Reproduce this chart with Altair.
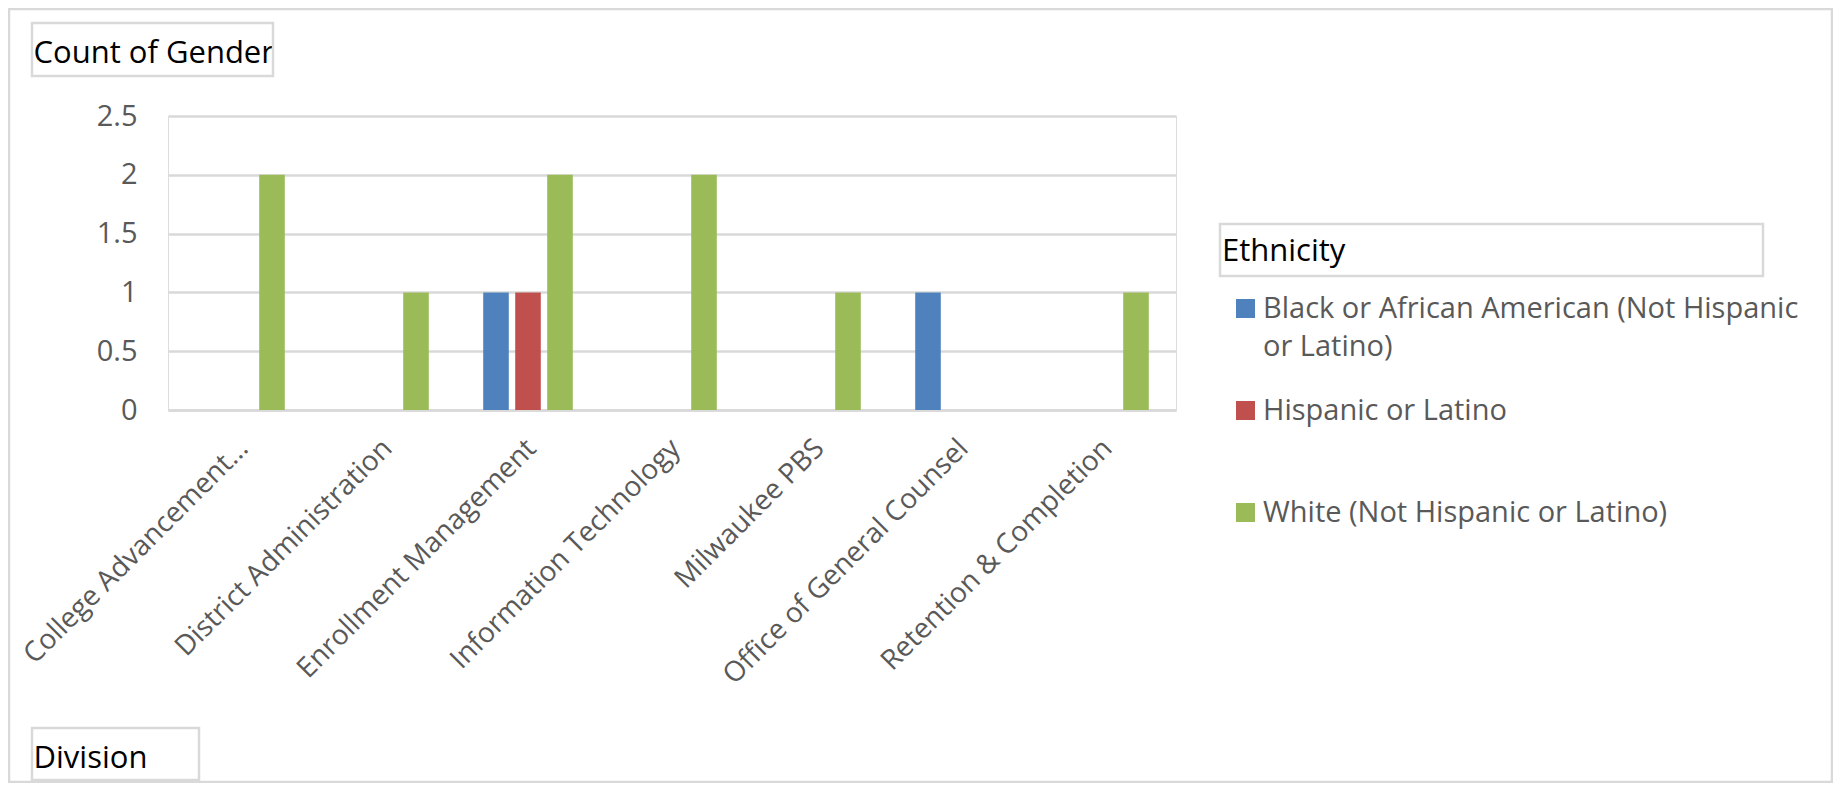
import altair as alt
import pandas as pd

divisions = [
    "College Advancement…",
    "District Administration",
    "Enrollment Management",
    "Information Technology",
    "Milwaukee PBS",
    "Office of General Counsel",
    "Retention & Completion",
]
ethnicities = [
    "Black or African American (Not Hispanic or Latino)",
    "Hispanic or Latino",
    "White (Not Hispanic or Latino)",
]
black_counts = [0, 0, 1, 0, 0, 1, 0]
hispanic_counts = [0, 0, 1, 0, 0, 0, 0]
white_counts = [2, 1, 2, 2, 1, 0, 1]
y_ticks = [0, 0.5, 1, 1.5, 2, 2.5]
colors = ["#4F81BD", "#C0504D", "#9BBB59"]

rows = []
for eth, vals in zip(ethnicities, [black_counts, hispanic_counts, white_counts]):
    for d, v in zip(divisions, vals):
        if v > 0:
            rows.append({"Division": d, "Ethnicity": eth, "Count": v})
df = pd.DataFrame(rows)

FONT = "Open Sans"
GRAY = "#595959"
LINE = "#d9d9d9"
W, H = 1008, 294
PAD = {"left": 160, "top": 108, "right": 657, "bottom": 373}

label_expr = (
    "datum.label == '" + ethnicities[0] + "' ? "
    "['Black or African American (Not Hispanic', 'or Latino)'] : [datum.label, '']"
)

bars = alt.Chart(df).mark_bar().encode(
    x=alt.X(
        "Division:N",
        sort=divisions,
        scale=alt.Scale(domain=divisions, paddingInner=0, paddingOuter=0),
        axis=alt.Axis(
            title="Division",
            titleFont=FONT, titleFontSize=31, titleFontWeight="normal", titleColor="#000000",
            titleAngle=0, titleAlign="left", titleBaseline="alphabetic",
            titleX=-135, titleY=357,
            labelFont=FONT, labelFontSize=28, labelColor=GRAY,
            labelAngle=-45, labelAlign="right", labelBaseline="middle",
            labelPadding=34, labelOffset=4, labelLimit=600,
            ticks=False, domainColor=LINE, domainWidth=2.5,
        ),
    ),
    xOffset=alt.XOffset(
        "Ethnicity:N",
        sort=ethnicities,
        scale=alt.Scale(domain=ethnicities, paddingInner=0.2, paddingOuter=0.85),
    ),
    y=alt.Y(
        "Count:Q",
        scale=alt.Scale(domain=[0, 2.5], nice=False),
        axis=alt.Axis(
            title="Count of Gender",
            titleFont=FONT, titleFontSize=31, titleFontWeight="normal", titleColor="#000000",
            titleAngle=0, titleAlign="left", titleBaseline="alphabetic",
            titleX=-135, titleY=-54,
            values=y_ticks, format="~g",
            labelFont=FONT, labelFontSize=29, labelColor=GRAY, labelPadding=31,
            ticks=False, domain=False,
            grid=True, gridColor=LINE, gridWidth=2.5,
        ),
    ),
    color=alt.Color(
        "Ethnicity:N",
        sort=ethnicities,
        scale=alt.Scale(domain=ethnicities, range=colors),
        legend=alt.Legend(
            title="Ethnicity",
            orient="none", legendX=1054, legendY=121,
            padding=0,
            titleFont=FONT, titleFontSize=31, titleFontWeight="normal", titleColor="#000000",
            titlePadding=26,
            labelFont=FONT, labelFontSize=29, labelColor=GRAY, labelLimit=700,
            labelExpr=label_expr, labelBaseline="middle", labelOffset=3,
            symbolType="square", symbolSize=361, symbolStrokeWidth=0,
            symbolOffset=9, rowPadding=34,
        ),
    ),
)


def box(x, x2, y, y2):
    return alt.Chart(pd.DataFrame({"k": [0]})).mark_rect(
        filled=False, stroke=LINE, strokeWidth=2.5
    ).encode(x=alt.value(x), x2=alt.value(x2), y=alt.value(y), y2=alt.value(y2))


decor = [
    box(-159, 1664, -107, 666),
    box(-136, 105, -93, -40),
    box(-136, 31, 612, 664),
    box(1052, 1595, 108, 160),
]

chart = alt.layer(bars, *decor).properties(
    width=W, height=H,
    autosize=alt.AutoSizeParams(type="none"),
    padding=PAD,
).configure_view(stroke=None).configure(
    style={"guide-label": {"lineHeight": 38}}
)

chart.save("out.html", embed_options={"renderer": "svg", "actions": False})
